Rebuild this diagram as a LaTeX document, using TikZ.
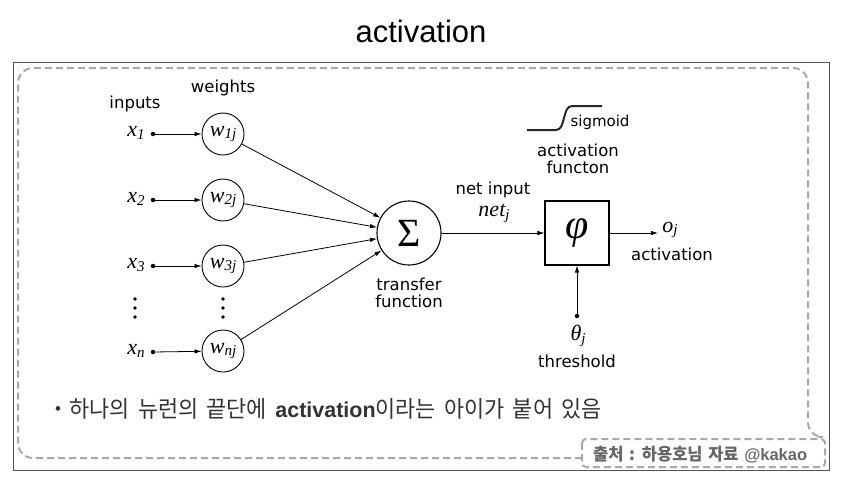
\documentclass[tikz,border=0pt]{standalone}
\usepackage{fontspec}
\setmainfont{DejaVu Sans}
\newfontfamily\tms{Liberation Serif}
\newfontfamily\ars[WordSpace=1.6]{Liberation Sans}
\newfontfamily\kor[FakeStretch=0.95,WordSpace=1.7]{Noto Sans CJK KR}
\newfontfamily\kors[FakeStretch=0.97,WordSpace=1.5]{Noto Sans CJK KR}
\usetikzlibrary{arrows.meta}
\definecolor{dashgray}{HTML}{A8A8A8}
\definecolor{framegray}{HTML}{555555}
\definecolor{txtgray}{HTML}{333333}
\definecolor{srcgray}{HTML}{666666}
\newcommand{\xv}[2]{{\fontsize{22}{22}\selectfont\tms\itshape #1}\raisebox{-0.28em}{\fontsize{15}{15}\selectfont\tms\itshape #2}}
\tikzset{
  lbl/.style={font=\fontsize{16.5}{19}\selectfont, text=black, inner sep=0pt, align=center},
  wnode/.style={circle, draw, line width=0.9pt, minimum size=42pt, inner sep=0pt},
  sumnode/.style={circle, draw, line width=1.1pt, minimum size=64pt, inner sep=0pt},
  phinode/.style={rectangle, draw, line width=1.1pt, minimum size=64pt, inner sep=0pt},
  pt/.style={circle, fill, inner sep=0pt, minimum size=4.5pt},
  arr/.style={line width=0.8pt, -{Latex[length=7pt,width=4.5pt]}},
  dashbox/.style={draw=dashgray, line width=2pt, dash pattern=on 7pt off 4pt},
}
\begin{document}
\begin{tikzpicture}[x=1pt,y=-1pt]
\useasboundingbox (0,0) rectangle (842,480);
\fill[white] (0,0) rectangle (842,480);
% title
\node[font=\fontsize{31}{31}\selectfont\ars, text=black] (title) at (421,31) {activation};
% frames
\draw[framegray, line width=1pt] (13,62) rectangle (829,470);
\draw[dashbox, rounded corners=15pt] (582,458) -- (18,458) -- (18,68) -- (808,68) -- (808,437) -- (818,437);
\draw[dashbox, rounded corners=4pt] (582,439) rectangle (825,467);
% labels
\node[lbl] (inputs) at (135,104) {inputs};
\node[lbl] (weights) at (223,88) {weights};
% inputs
\node[inner sep=0pt] (x1) at (136,133) {\xv{x}{1}};
\node[inner sep=0pt] (x2) at (136,199) {\xv{x}{2}};
\node[inner sep=0pt] (x3) at (136,265) {\xv{x}{3}};
\node[inner sep=0pt] (xn) at (136,351) {\xv{x}{n}};
\node[pt] (d1) at (153,134) {};
\node[pt] (d2) at (153,200) {};
\node[pt] (d3) at (153,266) {};
\node[pt] (dn) at (153,352) {};
\node[wnode] (w1) at (223,134) {\xv{w}{1j}};
\node[wnode] (w2) at (223,200) {\xv{w}{2j}};
\node[wnode] (w3) at (223,266) {\xv{w}{3j}};
\node[wnode] (wn) at (223,351) {\xv{w}{nj}};
% vertical dots
\foreach \cx in {135,223}{
  \foreach \cy in {299,308,317}{
    \fill (\cx,\cy) circle (1.8pt);
  }
}
\draw[arr] (d1) -- (w1);
\draw[arr] (d2) -- (w2);
\draw[arr] (d3) -- (w3);
\draw[arr] (dn) -- (wn);
% sum
\node[sumnode] (sum) at (409,233) {\fontsize{40}{40}\selectfont\tms Σ};
\draw[arr] (w1) -- (sum);
\draw[arr] (w2) -- (sum);
\draw[arr] (w3) -- (sum);
\draw[arr] (wn) -- (sum);
\node[lbl] (transfer) at (409,293) {transfer\\[-2pt]function};
% phi
\node[phinode] (phi) at (577,233) {\fontsize{42}{42}\selectfont\tms\itshape φ};
\draw[arr] (sum) -- (phi);
\node[lbl] (netinput) at (493,190) {net input};
\node[inner sep=0pt] (netj) at (494,213) {\xv{net}{j}};
% output
\coordinate (oend) at (658,233);
\draw[arr] (phi) -- (oend);
\node[inner sep=0pt] (oj) at (670,230) {\xv{o}{j}};
\node[lbl] (activ) at (672,254) {activation};
% threshold
\node[pt] (th) at (577,316) {};
\draw[arr] (th) -- (phi);
\node[inner sep=0pt] (thj) at (578,336) {\xv{θ}{j}};
\node[lbl] (threshold) at (577,361) {threshold};
% sigmoid
\draw[line width=2pt, black!85] (527,130) -- (556,130) .. controls (566,130) and (562,106) .. (572,106) -- (602,106);
\node[lbl, font=\fontsize{15}{15}\selectfont] (sigmoid) at (600,122) {sigmoid};
\node[lbl] (actfun) at (578,159) {activation\\[-2pt]functon};
% bullet text
\node[anchor=west, inner sep=0pt, text=txtgray, font=\fontsize{23}{23}\selectfont\kor] (bullet) at (55,409) {\raisebox{0.12em}{\fontsize{17}{17}\selectfont\ars•}\ 하나의 뉴런의 끝단에 {\fontsize{21.5}{21.5}\selectfont\ars\bfseries activation}이라는 아이가 붙어 있음};
% source
\node[anchor=west, inner sep=0pt, text=srcgray, font=\fontsize{17}{17}\selectfont\kors\bfseries] (src) at (593,455) {출처 : 하용호님 자료 {\fontsize{16.5}{16.5}\selectfont\ars\bfseries @kakao}};
\end{tikzpicture}
\end{document}
